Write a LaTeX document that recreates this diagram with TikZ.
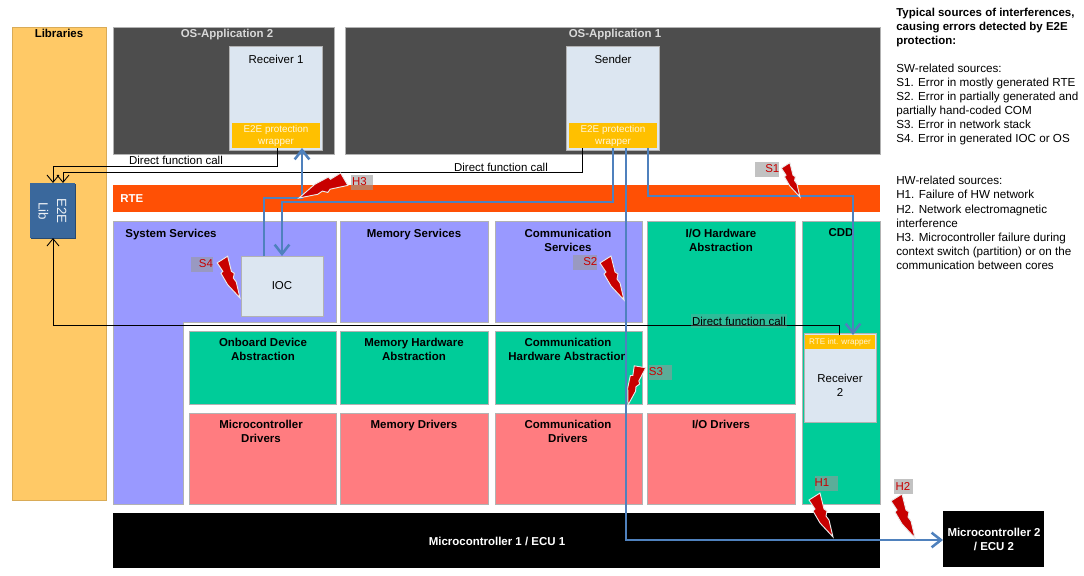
\documentclass[tikz,border=0pt]{standalone}
\usepackage{fontspec}
\setmainfont{Liberation Sans}
\usetikzlibrary{fit,arrows.meta}

\definecolor{libC}{RGB}{255,201,102}
\definecolor{osC}{RGB}{77,77,77}
\definecolor{swcC}{RGB}{220,230,241}
\definecolor{wrapC}{RGB}{255,192,0}
\definecolor{rteC}{RGB}{255,80,5}
\definecolor{svcC}{RGB}{153,153,255}
\definecolor{absC}{RGB}{0,204,153}
\definecolor{drvC}{RGB}{255,124,128}
\definecolor{libBoxC}{RGB}{58,104,156}
\definecolor{lineC}{RGB}{79,129,189}
\definecolor{boltC}{RGB}{200,0,0}

\tikzset{
  box/.style={draw=black!30,line width=0.4pt,inner sep=0pt,outer sep=0pt},
  blocktext/.style={font=\fontsize{8.6}{10.5}\selectfont\bfseries,align=center,inner sep=0pt},
  plaintext/.style={font=\fontsize{8.6}{10.5}\selectfont,align=center,inner sep=0pt},
  wraptext/.style={font=\fontsize{7.4}{9.6}\selectfont,align=center,inner sep=0pt,text=white!85!wrapC},
  errtag/.style={fill=black!40,fill opacity=0.6,text opacity=1,text=boltC,font=\fontsize{8.6}{10}\selectfont,inner sep=0pt,minimum height=15*0.75pt},
  callline/.style={line width=0.65pt,-{Straight Barb[length=5.5pt,width=9pt]}},
  flowline/.style={draw=lineC,line width=1.9pt,-{Straight Barb[length=7pt,width=11pt]}},
  bolt/.pic={
    \draw[fill=boltC,draw=black!8,line width=0.7pt]
      (0,0) -- (-4,17) -- (-7,21) -- (-6,26) -- (-9,28) -- (-13,44) -- (-24,37) -- (-18,28) -- (-20,26) -- (-13,14) -- cycle;
  }
}

\begin{document}
\begin{tikzpicture}[x=0.75pt,y=0.75pt,yscale=-1,xscale=1]
\useasboundingbox (0,0) rectangle (1084,575);

% Libraries
\node[box,draw=libC!85!black,fill=libC,fit={(12,27) (106,500)}] (libs) {};
\node[blocktext] (libsT) at (59,33) {Libraries};
\fill[libBoxC!70!black] (31,184) rectangle (76,239);
\node[box,draw=none,fill=libBoxC,fit={(30,183) (75,238)}] (e2elib) {};
\node[rotate=-90,font=\fontsize{10}{14}\selectfont,align=center,text=white!90!libBoxC,inner sep=0pt] (e2elibT) at (52.5,211) {E2E\\Lib};

% OS applications
\node[box,fill=osC,fit={(113,27) (334,154)}] (osapp2) {};
\node[blocktext,text=white!85!black] (osapp2T) at (227,35) {OS-Application 2};
\node[box,fill=osC,fit={(345,27) (880,154)}] (osapp1) {};
\node[blocktext,text=white!85!black] (osapp1T) at (615,35) {OS-Application 1};

\node[box,fill=swcC,fit={(229,46) (322,150)}] (recv1) {};
\node[plaintext] (recv1T) at (276,59) {Receiver 1};
\node[box,draw=none,fill=wrapC,fit={(232,123) (320,148)}] (wrap1) {};
\node[wraptext] (wrap1T) at (276,136) {E2E protection\\wrapper};

\node[box,fill=swcC,fit={(566,46) (659,150)}] (sender) {};
\node[plaintext] (senderT) at (613,59) {Sender};
\node[box,draw=none,fill=wrapC,fit={(569,123) (657,148)}] (wrap2) {};
\node[wraptext] (wrap2T) at (613,136) {E2E protection\\wrapper};

% RTE
\node[box,draw=none,fill=rteC,fit={(113,185) (880,212)}] (rte) {};
\node[blocktext,text=white,anchor=west] (rteT) at (120,199) {RTE};

% Services
\draw[box,fill=svcC] (113,221) -- (336,221) -- (336,322) -- (183,322) -- (183,504) -- (113,504) -- cycle;
\node[blocktext] (sysT) at (171,235) {System Services};
\node[box,fill=svcC,fit={(340,221) (488,322)}] (memsrv) {};
\node[blocktext] (memsrvT) at (414,235) {Memory Services};
\node[box,fill=svcC,fit={(495,221) (642,322)}] (comsrv) {};
\node[blocktext] (comsrvT) at (568,240) {Communication\\Services};
\node[box,fill=swcC,fit={(241,256) (323,316)}] (ioc) {};
\node[plaintext] (iocT) at (282,286) {IOC};

% Abstraction
\node[box,fill=absC,fit={(647,221) (795,404)}] (iohw) {};
\node[blocktext] (iohwT) at (721,240) {I/O Hardware\\Abstraction};
\node[box,fill=absC,fit={(802,221) (880,504)}] (cdd) {};
\node[blocktext] (cddT) at (841,233) {CDD};
\node[box,fill=absC,fit={(189,331) (336,404)}] (onboard) {};
\node[blocktext] (onboardT) at (263,349) {Onboard Device\\Abstraction};
\node[box,fill=absC,fit={(340,331) (488,404)}] (memhw) {};
\node[blocktext] (memhwT) at (414,349) {Memory Hardware\\Abstraction};
\node[box,fill=absC,fit={(495,331) (642,404)}] (comhw) {};
\node[blocktext] (comhwT) at (568,349) {Communication\\Hardware Abstraction};

% Drivers
\node[box,fill=drvC,fit={(189,413) (336,504)}] (mcudrv) {};
\node[blocktext] (mcudrvT) at (261,431) {Microcontroller\\Drivers};
\node[box,fill=drvC,fit={(340,413) (488,504)}] (memdrv) {};
\node[blocktext] (memdrvT) at (414,426) {Memory Drivers};
\node[box,fill=drvC,fit={(495,413) (642,504)}] (comdrv) {};
\node[blocktext] (comdrvT) at (568,431) {Communication\\Drivers};
\node[box,fill=drvC,fit={(647,413) (795,504)}] (iodrv) {};
\node[blocktext] (iodrvT) at (721,424) {I/O Drivers};

% Receiver 2
\node[box,fill=swcC,fit={(804,333) (876,422)}] (recv2) {};
\node[box,draw=none,fill=wrapC,fit={(805,335) (875,349)}] (wrap3) {};
\node[wraptext,font=\fontsize{6.1}{8}\selectfont] (wrap3T) at (840,342) {RTE int. wrapper};
\node[plaintext] (recv2T) at (840,385) {Receiver\\2};

% Microcontrollers
\node[box,draw=none,fill=black,fit={(113,513) (880,568)}] (mcu1) {};
\node[blocktext,text=white] (mcu1T) at (497,541) {Microcontroller 1 / ECU 1};
\node[box,draw=none,fill=black,fit={(943,511) (1044,567)}] (mcu2) {};
\node[blocktext,text=white] (mcu2T) at (994,539) {Microcontroller 2\\/ ECU 2};

% Direct function calls
\draw[callline] (277,0 |- wrap1.south) -- (277,166) -- (53,166) -- (53,0 |- e2elib.north);
\draw[callline] (582,0 |- wrap2.south) -- (582,172) -- (63,172) -- (63,0 |- e2elib.north);
\draw[callline] (839,0 |- wrap3.north) -- (839,325) -- (53,325) -- (53,0 |- e2elib.south);
\node[plaintext] (call1) at (176,160) {Direct function call};
\node[plaintext] (call2) at (501,167) {Direct function call};
\node[plaintext,fill=black!40,fill opacity=0.3,text opacity=1,inner xsep=1pt,inner ysep=2pt] (call3) at (739,321) {Direct function call};

% Data flows
\draw[flowline] (264,0 |- ioc.north) -- (264,198) -- (302,198) -- (302,0 |- wrap1.south);
\draw[flowline] (613,0 |- wrap2.south) -- (613,202) -- (282,202) -- (282,0 |- ioc.north);
\draw[flowline] (626,0 |- wrap2.south) -- (626,540) -- (mcu2.west |- 0,540);
\draw[flowline] (648,0 |- wrap2.south) -- (648,196) -- (853,196) -- (853,0 |- wrap3.north);

% Error sources
\pic[scale=0.78] at (800,197) {bolt};
\node[errtag,minimum width=24*0.75pt] (s1) at (767,169) {\hspace*{8pt}S1};
\pic[scale=1] at (624,300) {bolt};
\node[errtag,minimum width=24*0.75pt] (s2) at (585,262) {\hspace*{8pt}S2};
\pic[scale=0.9,rotate=-42] at (628,405) {bolt};
\node[errtag,minimum width=23*0.75pt] (s3) at (660,372) {S3\hspace*{6pt}};
\pic[scale=0.95] at (240,298) {bolt};
\node[errtag,minimum width=22*0.75pt] (s4) at (202,264) {\hspace*{6pt}S4};
\pic[scale=1] at (833,537) {bolt};
\node[errtag,minimum width=23*0.75pt] (h1) at (826,483) {H1\hspace*{6pt}};
\pic[scale=1] at (915,538) {bolt};
\node[errtag,minimum width=19*0.75pt] (h2) at (903,486) {H2};
\pic[scale=1.1,rotate=-92] at (299,198) {bolt};
\node[errtag,minimum width=22*0.75pt] (h3) at (362,182) {H3\hspace*{4pt}};

% Legend
\node[anchor=north west,align=left,inner sep=0pt,font=\fontsize{8.75}{10.55}\selectfont] (legend) at (896,7.5) {%
\textbf{\fontsize{8.6}{10.55}\selectfont Typical sources of interferences,}\\
\textbf{\fontsize{8.6}{10.55}\selectfont causing errors detected by E2E}\\
\textbf{\fontsize{8.6}{10.55}\selectfont protection:}\\
\mbox{}\\
SW-related sources:\\
S1. Error in mostly generated RTE\\
S2. Error in partially generated and\\
partially hand-coded COM\\
S3. Error in network stack\\
S4. Error in generated IOC or OS\\
\mbox{}\\
\mbox{}\\
HW-related sources:\\
H1. Failure of HW network\\
H2. Network electromagnetic\\
interference\\
H3. Microcontroller failure during\\
context switch (partition) or on the\\
communication between cores};

\end{tikzpicture}
\end{document}
